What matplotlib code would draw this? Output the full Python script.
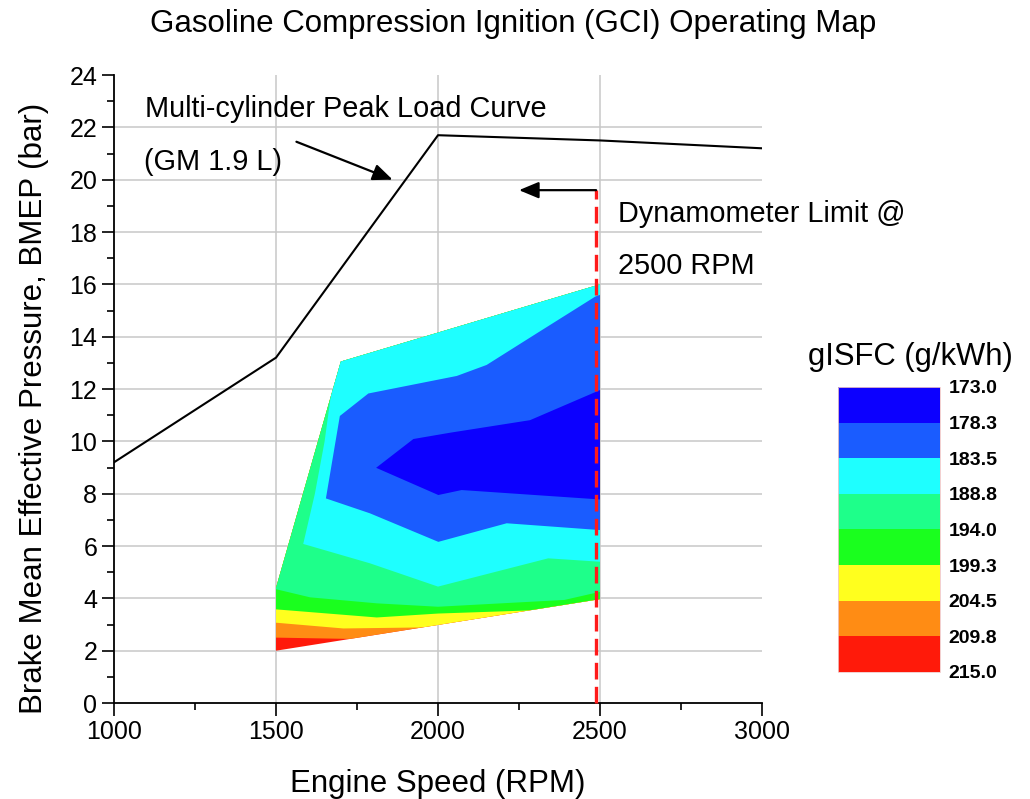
import numpy as np
import matplotlib.pyplot as plt
from matplotlib.patches import Polygon
from matplotlib.colors import ListedColormap, BoundaryNorm
from matplotlib.cm import ScalarMappable

plt.rcParams['font.family'] = ['Liberation Sans', 'DejaVu Sans']

# multi-cylinder peak load curve (GM 1.9 L)
peak_rpm = [1000, 1500, 2000, 2500, 3000]
peak_bmep = [9.2, 13.2, 21.7, 21.5, 21.2]

# gISFC contour levels and colours (low -> high)
levels = [173.0, 178.3, 183.5, 188.8, 194.0, 199.3, 204.5, 209.8, 215.0]
band_colors = ['#0C00FF', '#1A5CFF', '#1EFFFF', '#1EFF8A',
               '#1AFF1E', '#FFFF1E', '#FF8C14', '#FF1A0A']

# outline of the tested operating area
domain_rpm = [1500, 1500, 1700, 2500, 2500]
domain_bmep = [2.0, 4.4, 13.05, 16.0, 3.97]

# iso-gISFC lines, lower consumption lies above / inside each line
iso_209_8 = ([1500, 1730], [2.50, 2.45])
iso_204_5 = ([1500, 1708, 1955], [3.07, 2.85, 2.89])
iso_199_3 = ([1500, 1811, 2000, 2285], [3.58, 3.27, 3.42, 3.54])
iso_194_0 = ([1500, 1605, 1811, 2000, 2390, 2500], [4.35, 4.04, 3.81, 3.68, 3.94, 4.25])
iso_188_8 = ([1672, 1650, 1620, 1584, 1790, 2000, 2340, 2500],
             [12.0, 10.0, 8.0, 6.08, 5.34, 4.45, 5.53, 5.40])
iso_183_5 = ([2500, 2485, 2305, 2150, 2058, 1785, 1697, 1654, 1790, 2001, 2212, 2500],
             [15.6, 15.53, 14.13, 12.92, 12.5, 11.83, 10.97, 7.82, 7.25, 6.16, 6.87, 6.61])
iso_178_3 = ([2500, 2284, 2037, 1924, 1809, 2001, 2073, 2500],
             [11.96, 10.81, 10.33, 10.09, 8.99, 7.95, 8.14, 7.78])

dyno_rpm = 2488
dyno_top = 19.6


def region_above(line):
    # close an iso-line over the top of the map; the domain clip trims the rest
    xs, ys = list(line[0]), list(line[1])
    if xs[0] == xs[-1]:
        return xs, ys
    far = 1000
    xs = [xs[0] - far] + xs + [xs[-1] + far, xs[-1] + far, xs[0] - far]
    ys = [ys[0]] + ys + [ys[-1], 40, 40]
    return xs, ys


fig = plt.figure(figsize=(10.3, 7.99), dpi=100)
ax = fig.add_axes([0.1107, 0.1201, 0.6291, 0.786])

for x in [1500, 2000, 2500]:
    ax.axvline(x, color='#C8C8C8', lw=1.1, zorder=0)
for y in range(2, 24, 2):
    ax.axhline(y, color='#C8C8C8', lw=1.1, zorder=0)

domain = Polygon(np.column_stack([domain_rpm, domain_bmep]), closed=True,
                 fc=band_colors[7], ec='none', lw=0, zorder=1)
ax.add_patch(domain)

iso_lines = [iso_209_8, iso_204_5, iso_199_3, iso_194_0, iso_188_8, iso_183_5, iso_178_3]
for i, line in enumerate(iso_lines):
    xs, ys = region_above(line)
    patch, = ax.fill(xs, ys, color=band_colors[6 - i], lw=0, zorder=1)
    patch.set_clip_path(domain)

ax.plot(peak_rpm, peak_bmep, color='black', lw=1.5, zorder=4)
ax.plot([dyno_rpm, dyno_rpm], [0, dyno_top], color='#FF1A1A', lw=2.4,
        dashes=(5, 2.2), zorder=5, clip_on=False)

arrow = dict(arrowstyle='-|>,head_length=0.6,head_width=0.25', color='black',
             lw=1.6, mutation_scale=20, shrinkA=0, shrinkB=0)
ax.annotate('', xy=(1860, 20.0), xytext=(1563, 21.45), arrowprops=arrow, zorder=6)
ax.annotate('', xy=(2250, dyno_top), xytext=(dyno_rpm, dyno_top), arrowprops=arrow, zorder=6)

ax.text(1096, 22.4, 'Multi-cylinder Peak Load Curve', fontsize=20.8, va='baseline')
ax.text(1094, 20.37, '(GM 1.9 L)', fontsize=20.8, va='baseline')
ax.text(2556, 18.39, 'Dynamometer Limit @', fontsize=20.8, va='baseline')
ax.text(2556, 16.38, '2500 RPM', fontsize=20.8, va='baseline')

ax.set_xlim(1000, 3000)
ax.set_ylim(0, 24)
ax.set_xticks([1000, 1500, 2000, 2500, 3000])
ax.set_xticks(np.arange(1250, 3000, 500), minor=True)
ax.set_yticks(range(0, 25, 2))
ax.set_yticks(range(1, 24, 2), minor=True)
ax.tick_params(which='major', length=9, width=1.2, labelsize=18, pad=3)
ax.tick_params(which='minor', length=5, width=1.2)
for side in ['top', 'right']:
    ax.spines[side].set_visible(False)
for side in ['left', 'bottom']:
    ax.spines[side].set_linewidth(1.3)

ax.set_xlabel('Engine Speed (RPM)', fontsize=22.5)
ax.set_ylabel('Brake Mean Effective Pressure, BMEP (bar)', fontsize=22.5)
ax.xaxis.set_label_coords(0.5, -0.1057)
ax.yaxis.set_label_coords(-0.101, 0.469)

fig.text(0.498, 0.96, 'Gasoline Compression Ignition (GCI) Operating Map',
         ha='center', va='baseline', fontsize=22.5)

# colour scale
cax = fig.add_axes([0.8136, 0.159, 0.099, 0.3567])
cmap = ListedColormap(band_colors)
norm = BoundaryNorm(levels, cmap.N)
cb = fig.colorbar(ScalarMappable(norm=norm, cmap=cmap), cax=cax, ticks=levels)
cax.invert_yaxis()
cb.set_ticklabels(['%.1f' % v for v in levels])
cb.outline.set_edgecolor('#F0C8C8')
cb.outline.set_linewidth(0.6)
cax.tick_params(length=0, pad=6, labelsize=14)
for lbl in cax.get_yticklabels():
    lbl.set_fontweight('bold')
fig.text(0.8842, 0.5432, 'gISFC (g/kWh)', ha='center', va='baseline', fontsize=22.3)

fig.savefig('out.png', dpi=100)
